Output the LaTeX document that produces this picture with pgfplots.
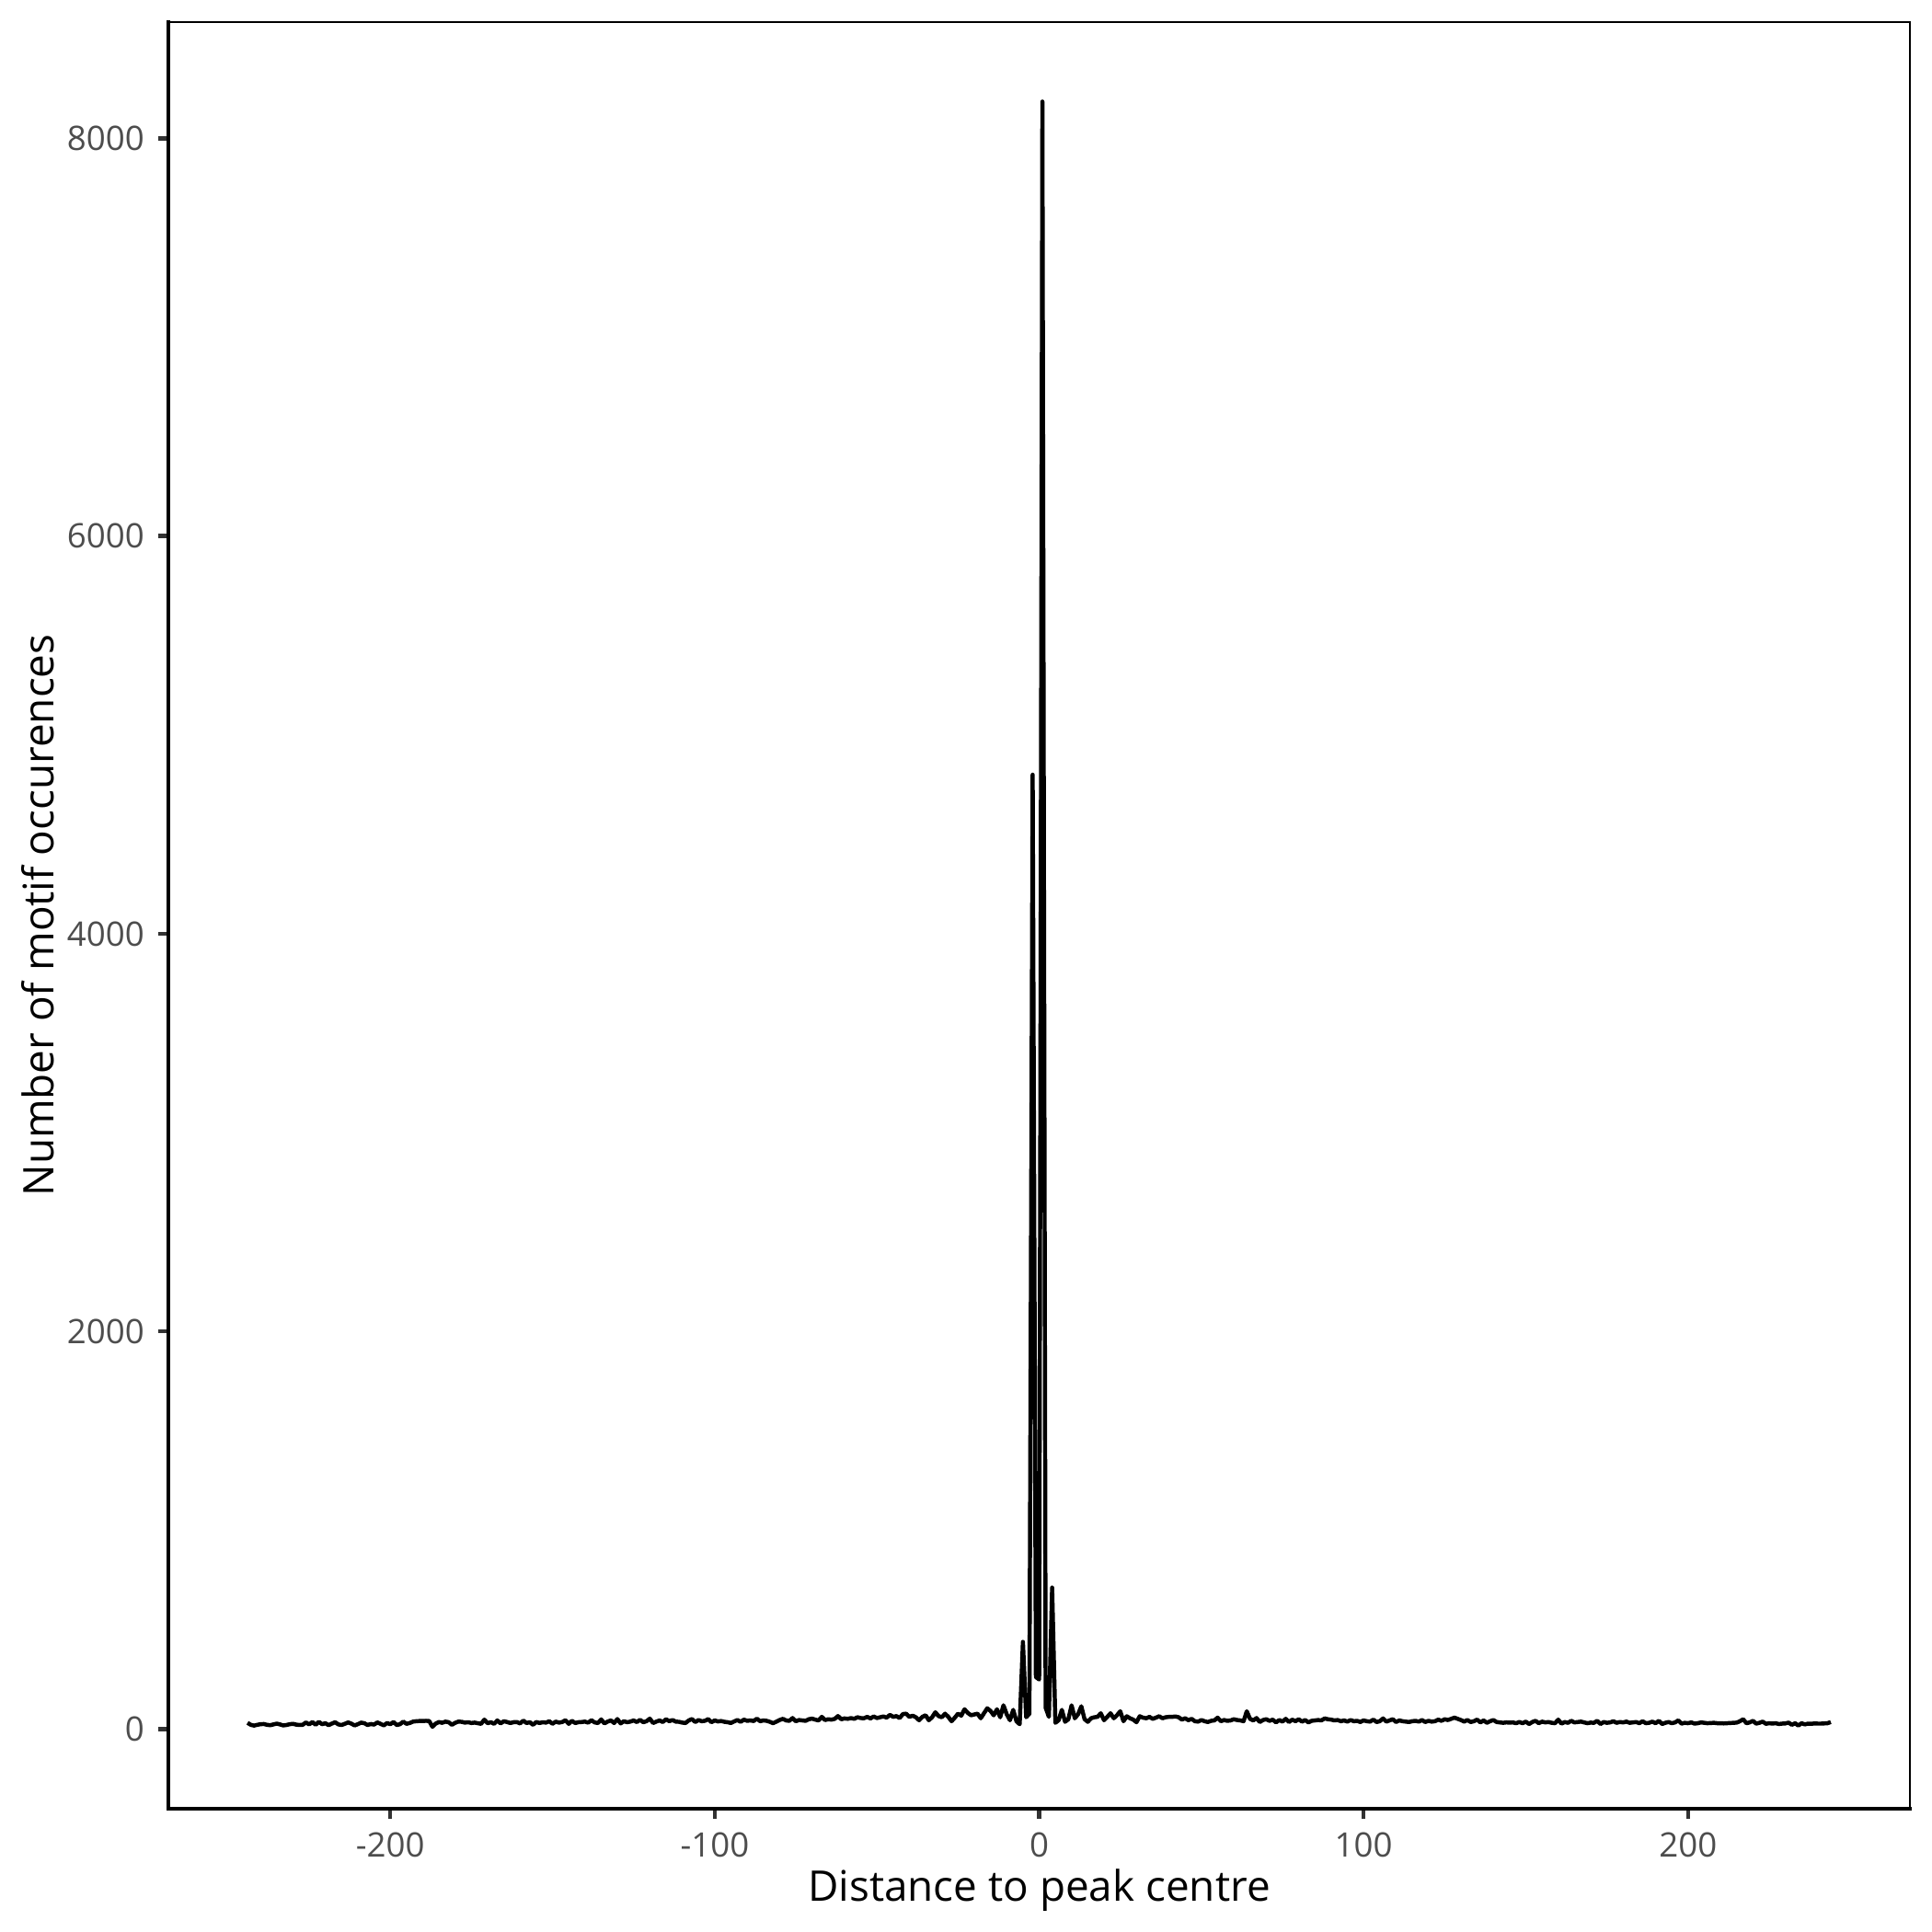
\documentclass[border=0pt]{standalone}
\usepackage{fontspec}
\setmainfont{Open Sans}
\usepackage{pgfplots}
\pgfplotsset{compat=1.18}
\definecolor{tickgray}{HTML}{4D4D4D}
\definecolor{tickline}{HTML}{333333}

\begin{document}
\begin{tikzpicture}
% fix the page to the reference's frame (2100 px = 504 pt)
\path[use as bounding box] (-43.92pt,-32.16pt) rectangle (460.08pt,471.84pt);
\begin{axis}[
    at={(0,0)}, anchor=south west,
    scale only axis,
    width=454.32pt, height=466.08pt,
    xmin=-268.4, xmax=268.4,
    ymin=-400, ymax=8585,
    axis line style={black, line width=0.55pt},
    xtick={-200,-100,0,100,200},
    xticklabels={-200,-100,0,100,200},
    ytick={0,2000,4000,6000,8000},
    yticklabels={0,2000,4000,6000,8000},
    xtick pos=bottom, ytick pos=left,
    tick align=outside,
    major tick length=2.75pt,
    tick style={tickline, line width=1.07pt},
    ticklabel style={font=\fontsize{8.8}{10}\selectfont, text=tickgray},
    xlabel={Distance to peak centre},
    ylabel={Number of motif occurences},
    label style={font=\fontsize{11}{13}\selectfont, inner sep=0pt},
    xlabel style={at={(axis description cs:0.5,-0.0458)}, anchor=center},
    ylabel style={at={(axis description cs:-0.0747,0.5)}, anchor=center},
    after end axis/.code={
        \draw[black, line width=1.07pt, line cap=rect]
            (rel axis cs:0,1) -- (rel axis cs:0,0) -- (rel axis cs:1,0);
    },
]
\addplot[black, line width=1.07pt, line join=round, mark=none] coordinates {
(-244,32) (-243,22) (-242,18) (-241,22) (-240,25) (-239,26) (-238,22) (-237,20) (-236,24) (-235,28)
(-234,24) (-233,19) (-232,21) (-231,25) (-230,27) (-229,23) (-228,21) (-227,22) (-226,34) (-225,24)
(-224,36) (-223,22) (-222,37) (-221,25) (-220,30) (-219,20) (-218,28) (-217,35) (-216,24) (-215,21)
(-214,27) (-213,34) (-212,28) (-211,19) (-210,25) (-209,33) (-208,30) (-207,21) (-206,26) (-205,23)
(-204,34) (-203,27) (-202,19) (-201,31) (-200,25)
(-199,36) (-198,21) (-197,25) (-196,38) (-195,27) (-194,31) (-193,38) (-192,40) (-191,41) (-190,41)
(-189,42) (-188,41) (-187,12) (-186,28) (-185,36) (-184,32) (-183,38) (-182,35) (-181,22) (-180,32)
(-179,38) (-178,37) (-177,33) (-176,35) (-175,31) (-174,33) (-173,30) (-172,27) (-171,48) (-170,30)
(-169,35) (-168,27) (-167,44) (-166,29) (-165,40) (-164,36) (-163,31) (-162,35) (-161,36) (-160,29)
(-159,43) (-158,31) (-157,35) (-156,22) (-155,36) (-154,31) (-153,35) (-152,33) (-151,40) (-150,27)
(-149,38) (-148,33) (-147,36) (-146,45) (-145,27) (-144,42) (-143,31) (-142,35) (-141,36) (-140,38)
(-139,33) (-138,45) (-137,34) (-136,31) (-135,49) (-134,29) (-133,38) (-132,44) (-131,31) (-130,51)
(-129,29) (-128,40) (-127,35) (-126,38) (-125,44) (-124,36) (-123,47) (-122,35) (-121,40) (-120,53)
(-119,31) (-118,38) (-117,44) (-116,36) (-115,50) (-114,40) (-113,46) (-112,38) (-111,37) (-110,33)
(-109,31) (-108,44) (-107,51) (-106,36) (-105,46) (-104,40) (-103,42) (-102,51) (-101,35) (-100,44)
(-99,39) (-98,41) (-97,37) (-96,35) (-95,31) (-94,39) (-93,46) (-92,37) (-91,48) (-90,42)
(-89,44) (-88,41) (-87,53) (-86,40) (-85,44) (-84,42) (-83,37) (-82,30) (-81,38) (-80,46)
(-79,52) (-78,44) (-77,42) (-76,56) (-75,40) (-74,46) (-73,44) (-72,42) (-71,50) (-70,53)
(-69,48) (-68,44) (-67,62) (-66,46) (-65,50) (-64,48) (-63,52) (-62,66) (-61,50) (-60,54)
(-59,52) (-58,56) (-57,52) (-56,60) (-55,56) (-54,55) (-53,62) (-52,54) (-51,64) (-50,56)
(-49,60) (-48,64) (-47,58) (-46,72) (-45,62) (-44,66) (-43,56) (-42,76) (-41,78) (-40,62)
(-39,68) (-38,60) (-37,45) (-36,62) (-35,70) (-34,45) (-33,60) (-32,85) (-31,66) (-30,60)
(-29,78) (-28,62) (-27,40) (-26,58) (-25,78) (-24,68) (-23,100) (-22,82) (-21,70) (-20,74)
(-19,78) (-18,55) (-17,80) (-16,105) (-15,92) (-14,70) (-13,100) (-12,60) (-11,120) (-10,75)
(-9,45) (-8,97) (-7,40) (-6,25) (-5,439) (-4,60) (-3,78) (-2,4800) (-1,262) (0,250)
(1,8185) (2,108) (3,62) (4,712) (5,32) (6,45) (7,97) (8,37) (9,50) (10,120)
(11,55) (12,75) (13,115) (14,50) (15,37) (16,55) (17,60) (18,62) (19,80) (20,45)
(21,62) (22,80) (23,55) (24,70) (25,90) (26,40) (27,65) (28,55) (29,48) (30,35)
(31,65) (32,58) (33,55) (34,62) (35,52) (36,58) (37,65) (38,55) (39,60) (40,62)
(41,62) (42,64) (43,60) (44,48) (45,55) (46,45) (47,52) (48,40) (49,38) (50,46)
(51,40) (52,36) (53,42) (54,44) (55,58) (56,40) (57,46) (58,42) (59,44) (60,50)
(61,46) (62,44) (63,40) (64,90) (65,52) (66,44) (67,56) (68,36) (69,46) (70,50)
(71,42) (72,48) (73,34) (74,46) (75,38) (76,52) (77,36) (78,48) (79,40) (80,50)
(81,38) (82,46) (83,34) (84,42) (85,44) (86,46) (87,44) (88,54) (89,50) (90,48)
(91,44) (92,46) (93,40) (94,44) (95,38) (96,46) (97,40) (98,42) (99,36) (100,44)
(101,40) (102,38) (103,48) (104,36) (105,40) (106,54) (107,38) (108,44) (109,50) (110,36)
(111,44) (112,40) (113,38) (114,36) (115,40) (116,42) (117,38) (118,46) (119,36) (120,42)
(121,38) (122,40) (123,48) (124,42) (125,50) (126,46) (127,52) (128,58) (129,52) (130,46)
(131,38) (132,46) (133,36) (134,40) (135,48) (136,34) (137,44) (138,32) (139,40) (140,46)
(141,36) (142,34) (143,32) (144,34) (145,33) (146,34) (147,30) (148,36) (149,30) (150,38)
(151,26) (152,36) (153,42) (154,30) (155,38) (156,34) (157,36) (158,32) (159,30) (160,48)
(161,28) (162,36) (163,32) (164,42) (165,34) (166,36) (167,38) (168,34) (169,30) (170,33)
(171,32) (172,42) (173,26) (174,36) (175,32) (176,34) (177,40) (178,32) (179,36) (180,34)
(181,38) (182,32) (183,34) (184,36) (185,30) (186,40) (187,30) (188,32) (189,38) (190,30)
(191,42) (192,26) (193,32) (194,36) (195,30) (196,34) (197,44) (198,28) (199,32) (200,30)
(201,34) (202,28) (203,30) (204,34) (205,32) (206,30) (207,31) (208,32) (209,30) (210,30)
(211,29) (212,30) (213,31) (214,32) (215,33) (216,40) (217,50) (218,30) (219,34) (220,42)
(221,28) (222,32) (223,38) (224,27) (225,30) (226,28) (227,30) (228,26) (229,28) (230,29)
(231,33) (232,22) (233,30) (234,18) (235,30) (236,24) (237,28) (238,27) (239,29) (240,28)
(241,28) (242,29) (243,30) (244,36)
};
\end{axis}
\end{tikzpicture}
\end{document}
